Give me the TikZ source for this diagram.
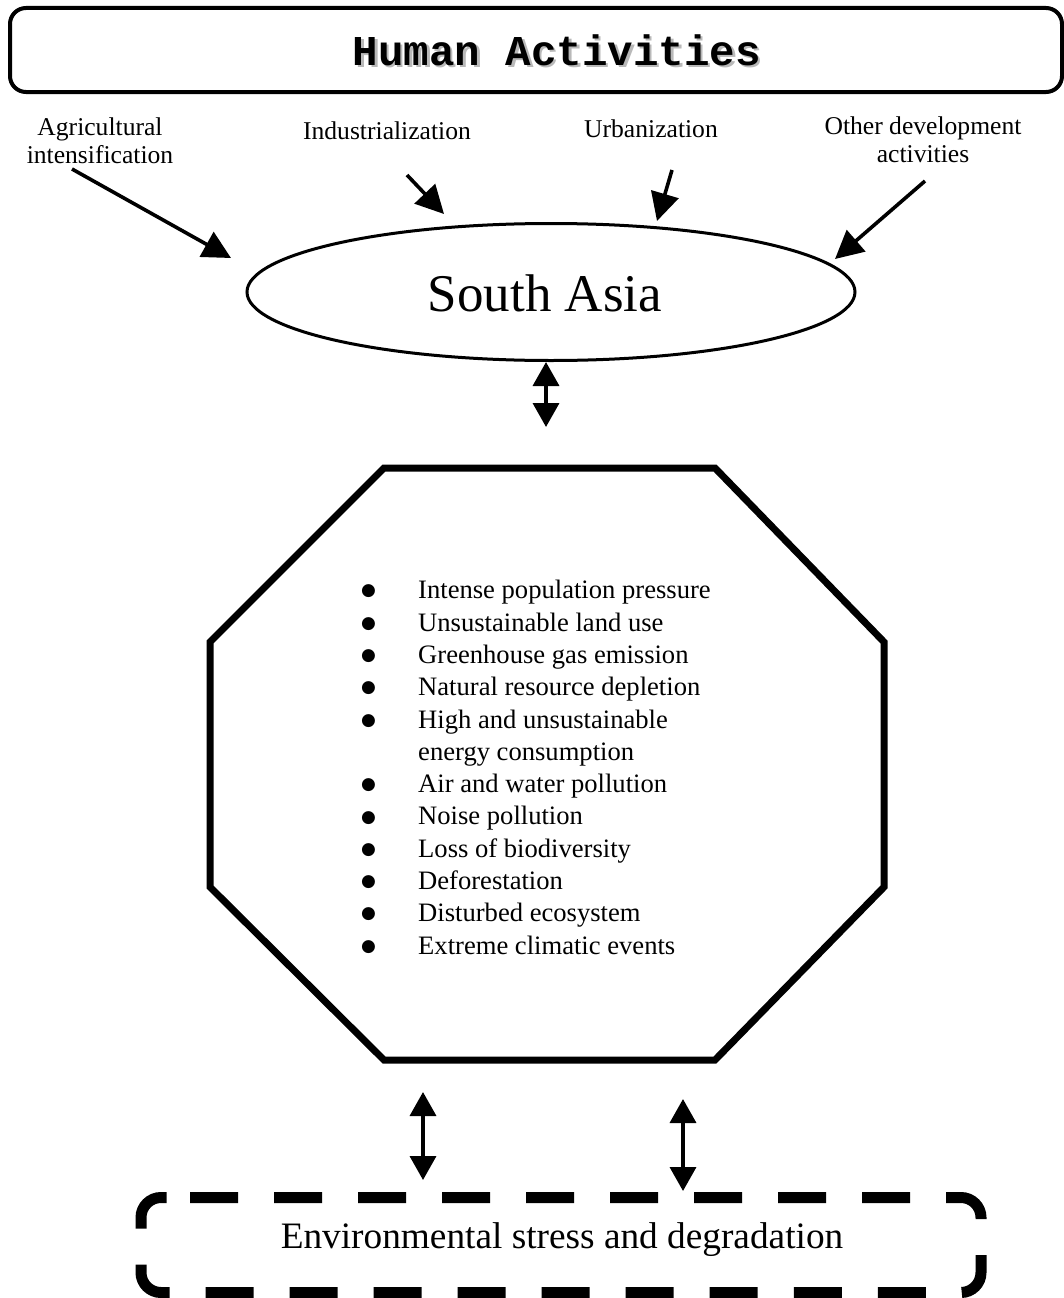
\documentclass[tikz,border=0pt]{standalone}
\usepackage{fontspec}
\setmainfont{Liberation Serif}
\newfontfamily\titlefont{Liberation Mono}
\newfontfamily\symfont{DejaVu Sans}
\usetikzlibrary{arrows.meta,shapes.geometric}
\newcommand{\bigbul}{\raisebox{2.9pt}{\symfont\fontsize{17}{17}\selectfont ●}}
\begin{document}
\begin{tikzpicture}[x=1pt,y=-1pt,
  inarrow/.style={line width=3.6pt,-{Triangle[length=28pt,width=28pt]}},
  dblarrow/.style={line width=3.6pt,{Triangle[length=24pt,width=26pt]}-{Triangle[length=24pt,width=26pt]}},
  lbl/.style={font=\fontsize{25.6}{28}\selectfont,align=center,inner sep=0pt}]
\useasboundingbox (0,0) rectangle (1063,1298);
\fill[white] (0,0) rectangle (1063,1298);
% top box
\node[draw,line width=4pt,rounded corners=16pt,minimum width=1052pt,minimum height=84pt,inner sep=0pt] (top) at (536,50) {};
\node[font=\titlefont\bfseries\fontsize{42.5}{44}\selectfont,text=gray!55,inner sep=0pt] (titleshadow) at (559.5,52.5) {Human Activities};
\node[font=\titlefont\bfseries\fontsize{42.5}{44}\selectfont,inner sep=0pt] (title) at (557,50) {Human Activities};
% labels
\node[lbl] (agri) at (100,141) {Agricultural\\intensification};
\node[lbl] (indu) at (387,131) {Industrialization};
\node[lbl] (urb) at (651,129) {Urbanization};
\node[lbl] (other) at (923,140) {Other development\\activities};
% ellipse
\node[draw,ellipse,line width=3pt,minimum width=608pt,minimum height=137pt,inner sep=0pt] (sa) at (551,292) {};
\node[font=\fontsize{53}{56}\selectfont,inner sep=0pt] (satext) at (545,293) {South Asia};
% arrow endpoints
\coordinate (a1) at (72,169);
\coordinate (a2) at (231,258);
\coordinate (b1) at (407,175);
\coordinate (b2) at (444,214);
\coordinate (c1) at (672,170);
\coordinate (c2) at (657,221);
\coordinate (d1) at (925,181);
\coordinate (d2) at (835,259);
\draw[inarrow] (a1) -- (a2);
\draw[inarrow] (b1) -- (b2);
\draw[inarrow] (c1) -- (c2);
\draw[inarrow] (d1) -- (d2);
% double arrow under ellipse
\coordinate (e1) at (546,362);
\coordinate (e2) at (546,427);
\draw[dblarrow] (e1) -- (e2);
% octagon
\coordinate (o1) at (384,468);
\coordinate (o2) at (715,468);
\coordinate (o3) at (884,642);
\coordinate (o4) at (884,887);
\coordinate (o5) at (715,1060);
\coordinate (o6) at (384,1060);
\coordinate (o7) at (210,887);
\coordinate (o8) at (210,642);
\draw[line width=7pt,line join=miter] (o1) -- (o2) -- (o3) -- (o4) -- (o5) -- (o6) -- (o7) -- (o8) -- cycle;
% list
\node[anchor=north west,inner sep=0pt,font=\fontsize{26.6}{32.3}\selectfont] (list) at (361,576) {%
\begin{tabular}{@{}p{57pt}@{}l@{}}
\bigbul & Intense population pressure\\
\bigbul & Unsustainable land use\\
\bigbul & Greenhouse gas emission\\
\bigbul & Natural resource depletion\\
\bigbul & High and unsustainable\\
 & energy consumption\\
\bigbul & Air and water pollution\\
\bigbul & Noise pollution\\
\bigbul & Loss of biodiversity\\
\bigbul & Deforestation\\
\bigbul & Disturbed ecosystem\\
\bigbul & Extreme climatic events
\end{tabular}};
% bottom double arrows
\coordinate (f1) at (423,1092);
\coordinate (f2) at (423,1180);
\coordinate (g1) at (683,1099);
\coordinate (g2) at (683,1191);
\draw[dblarrow] (f1) -- (f2);
\draw[dblarrow] (g1) -- (g2);
% dashed box
\coordinate (p0) at (190,1197.5);
\coordinate (p1) at (981,1197.5);
\coordinate (p2) at (981,1292.5);
\coordinate (p3) at (141,1292.5);
\coordinate (p4) at (141,1197.5);
\draw[line width=11pt,dash pattern=on 48pt off 36pt,rounded corners=20pt] (p0) -- (p1) -- (p2) -- (p3) -- (p4) -- (p0);
\node[font=\fontsize{37.3}{40}\selectfont,inner sep=0pt] (env) at (562,1240) {Environmental stress and degradation};
\end{tikzpicture}
\end{document}
